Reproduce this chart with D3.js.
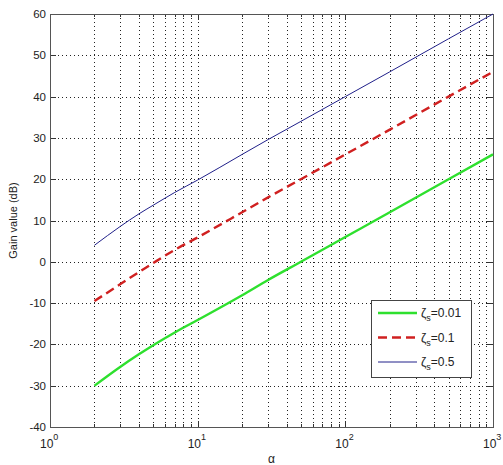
<!DOCTYPE html>
<html>
<head>
<meta charset="utf-8">
<script src="https://cdn.jsdelivr.net/npm/d3@7"></script>
<style>
body { margin:0; background:#fff; }
svg text { font-family: "Liberation Sans", Arial, sans-serif; fill:#222; }
</style>
</head>
<body>
<svg id="chart" width="503" height="465"></svg>
<script>
// values
const alpha = [2, 3, 4, 5, 7, 10, 20, 30, 50, 100, 200, 500, 1000]
const gain001 = [-30, -25.4, -22.4, -20.2, -17.1, -14.1, -8.1, -4.4, 0, 6, 12, 20, 26]
const gain01 = [-9.5, -5.4, -2.5, -0.3, 2.9, 5.9, 12, 15.6, 20, 26, 32, 40, 46]
const gain05 = [4, 8.6, 11.6, 13.7, 16.8, 19.8, 26, 29.6, 34, 40, 46, 54, 60]
const yTicks = [-40, -30, -20, -10, 0, 10, 20, 30, 40, 50, 60]
const xDecades = [0, 1, 2, 3]
const legendLabels = ["0.01", "0.1", "0.5"]

const series = [
  {vals: gain001, color: "#2ee02e", width: 2.4, dash: null, lab: legendLabels[0]},
  {vals: gain01, color: "#d02020", width: 2.4, dash: "9,5", lab: legendLabels[1]},
  {vals: gain05, color: "#20208a", width: 1, dash: null, lab: legendLabels[2]}
]

const m = {left: 50, right: 493, top: 14, bottom: 427}
const svg = d3.select("#chart")

const x = d3.scaleLog().domain([1, 1000]).range([m.left, m.right])
const y = d3.scaleLinear().domain([-40, 60]).range([m.bottom, m.top])

// minor positions on the log axis
let minors = []
xDecades.slice(0, 3).forEach(function(d){
  for (let k = 2; k <= 9; k++) minors.push(k * Math.pow(10, d))
})
const majors = xDecades.map(d => Math.pow(10, d))

let grid = svg.append("g").attr("class", "grid")
  .attr("stroke", "#222").attr("stroke-width", 1).attr("stroke-dasharray", "1,3")
grid.selectAll("line.gx").data(minors.concat(majors.slice(1, 3))).enter().append("line")
  .attr("x1", d => Math.round(x(d)) + 0.5).attr("x2", d => Math.round(x(d)) + 0.5)
  .attr("y1", m.top).attr("y2", m.bottom)
grid.selectAll("line.gy").data(yTicks.slice(1, -1)).enter().append("line")
  .attr("y1", d => Math.round(y(d)) + 0.5).attr("y2", d => Math.round(y(d)) + 0.5)
  .attr("x1", m.left).attr("x2", m.right)

// ticks pointing in, on all four sides
let ticks = svg.append("g").attr("stroke", "#333").attr("stroke-width", 1)
majors.concat(minors).forEach(function(d){
  let len = majors.indexOf(d) >= 0 ? 6 : 3
  let px = Math.round(x(d)) + 0.5
  ticks.append("line").attr("x1", px).attr("x2", px).attr("y1", m.bottom).attr("y2", m.bottom - len)
  ticks.append("line").attr("x1", px).attr("x2", px).attr("y1", m.top).attr("y2", m.top + len)
})
yTicks.forEach(function(d){
  let py = Math.round(y(d)) + 0.5
  ticks.append("line").attr("y1", py).attr("y2", py).attr("x1", m.left).attr("x2", m.left + 6)
  ticks.append("line").attr("y1", py).attr("y2", py).attr("x1", m.right).attr("x2", m.right - 6)
})

svg.append("rect").attr("x", m.left + 0.5).attr("y", m.top + 0.5)
  .attr("width", m.right - m.left).attr("height", m.bottom - m.top)
  .attr("fill", "none").attr("stroke", "#555").attr("stroke-width", 1)

// y tick labels
svg.append("g").selectAll("text").data(yTicks).enter().append("text")
  .attr("x", m.left - 4).attr("y", d => y(d) + 4)
  .attr("text-anchor", "end").attr("font-size", 11.5)
  .text(d => d)

// x tick labels: 10 with exponent
let xl = svg.append("g").selectAll("text").data(xDecades).enter().append("text")
  .attr("x", d => x(Math.pow(10, d)) - 10).attr("y", 448)
  .attr("font-size", 12)
xl.append("tspan").text("10")
xl.append("tspan").attr("dy", -8).attr("font-size", 9).text(d => d)

svg.append("text").attr("x", (m.left + m.right) / 2).attr("y", 463)
  .attr("text-anchor", "middle").attr("font-size", 12).text("α")
svg.append("text").attr("transform", `translate(17,${(m.top + m.bottom) / 2}) rotate(-90)`)
  .attr("text-anchor", "middle").attr("font-size", 11).text("Gain value (dB)")

// curves
const line = d3.line().x((d, i) => x(alpha[i])).y(d => y(d)).curve(d3.curveMonotoneX)
svg.append("g").selectAll("path").data(series).enter().append("path")
  .attr("d", d => line(d.vals))
  .attr("fill", "none").attr("stroke", d => d.color).attr("stroke-width", d => d.width)
  .attr("stroke-dasharray", d => d.dash)

// legend
let lg = svg.append("g").attr("transform", "translate(371,300)")
lg.append("rect").attr("x", 0.5).attr("y", 0.5).attr("width", 100).attr("height", 77)
  .attr("fill", "#fff").attr("stroke", "#444")
series.forEach(function(s, i){
  let ly = 13 + i * 24.5
  lg.append("line").attr("x1", 7).attr("x2", 46).attr("y1", ly).attr("y2", ly)
    .attr("stroke", s.color).attr("stroke-width", s.width).attr("stroke-dasharray", s.dash)
  let t = lg.append("text").attr("x", 50).attr("y", ly + 4).attr("font-size", 12)
  t.append("tspan").text("ζ")
  t.append("tspan").attr("dy", 4).attr("font-size", 9).text("s")
  t.append("tspan").attr("dy", -4).text("=" + s.lab)
})
</script>
</body>
</html>
